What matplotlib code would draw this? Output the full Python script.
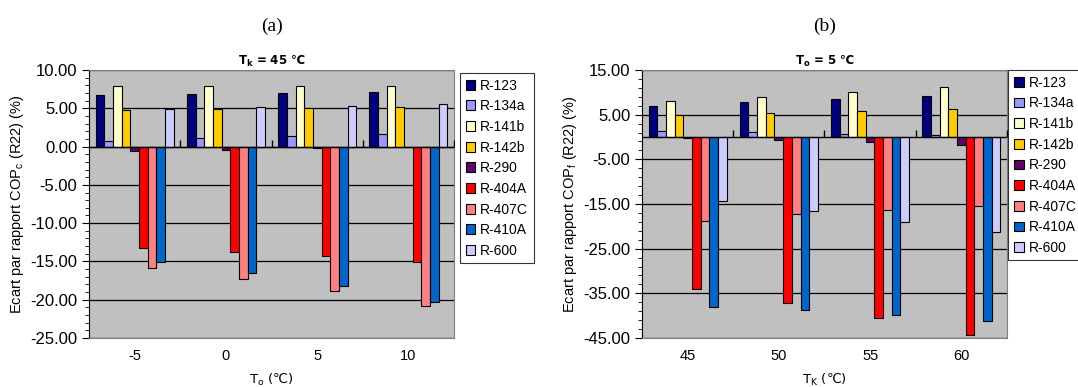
import matplotlib
matplotlib.use('Agg')
import matplotlib.pyplot as plt
from matplotlib.ticker import MultipleLocator, FormatStrFormatter

plt.rcParams['font.family'] = ['Liberation Sans', 'DejaVu Sans']
plt.rcParams['axes.unicode_minus'] = False

# Data
refrigerants = ['R-123', 'R-134a', 'R-141b', 'R-142b', 'R-290', 'R-404A', 'R-407C', 'R-410A', 'R-600']
colors = ['#000080', '#9999FF', '#FFFFCC', '#FFCC00', '#660066', '#FF0000', '#FF8080', '#0066CC', '#CCCCFF']

to_labels = ['-5', '0', '5', '10']
# (a) COPc deviation vs R22, Tk = 45 C, one list per refrigerant (To = -5, 0, 5, 10)
a_r123 = [6.74, 6.87, 7.04, 7.17]
a_r134a = [0.78, 1.09, 1.35, 1.60]
a_r141b = [7.96, 7.96, 7.91, 7.87]
a_r142b = [4.74, 4.91, 5.00, 5.13]
a_r290 = [-0.57, -0.39, -0.20, -0.05]
a_r404a = [-13.26, -13.74, -14.30, -15.13]
a_r407c = [-15.90, -17.26, -18.87, -20.78]
a_r410a = [-15.10, -16.52, -18.20, -20.30]
a_r600 = [4.87, 5.13, 5.35, 5.60]

tk_labels = ['45', '50', '55', '60']
# (b) COPf deviation vs R22, To = 5 C (Tk = 45, 50, 55, 60)
b_r123 = [7.00, 7.76, 8.50, 9.25]
b_r134a = [1.27, 1.04, 0.75, 0.37]
b_r141b = [7.99, 8.96, 10.00, 11.10]
b_r142b = [5.00, 5.37, 5.82, 6.34]
b_r290 = [-0.30, -0.60, -1.12, -1.72]
b_r404a = [-34.10, -37.10, -40.50, -44.40]
b_r407c = [-18.90, -17.30, -16.30, -15.40]
b_r410a = [-38.06, -38.70, -39.85, -41.30]
b_r600 = [-14.40, -16.60, -18.96, -21.30]

series_a = [a_r123, a_r134a, a_r141b, a_r142b, a_r290, a_r404a, a_r407c, a_r410a, a_r600]
series_b = [b_r123, b_r134a, b_r141b, b_r142b, b_r290, b_r404a, b_r407c, b_r410a, b_r600]


def draw_panel(ax, series, xlabels, ylim, major, minor, offset, title, xlabel, ylabel):
    n = len(xlabels)
    w = 0.095
    for i, (vals, name, c) in enumerate(zip(series, refrigerants, colors)):
        pos = [g + (i - 4) * w for g in range(n)]
        ax.bar(pos, vals, width=w, color=c, edgecolor='black', linewidth=0.8,
               label=name, zorder=3)
    ax.set_facecolor('#C0C0C0')
    ax.set_xlim(-0.5, n - 0.5)
    ax.set_ylim(*ylim)
    ax.yaxis.set_major_locator(MultipleLocator(major, offset=offset))
    ax.yaxis.set_minor_locator(MultipleLocator(minor, offset=offset % minor))
    ax.yaxis.set_major_formatter(FormatStrFormatter('%.2f'))
    ax.grid(axis='y', which='major', color='black', linewidth=0.9, zorder=1)
    ax.set_axisbelow(True)
    ax.axhline(0, color='black', linewidth=1.0, zorder=4)
    # category boundary ticks on the zero line
    ax.plot([g + 0.5 for g in range(n)], [0] * n, ls='none', marker=2,
            markersize=5, color='black', zorder=4)
    ax.set_xticks(range(n))
    ax.set_xticklabels(xlabels)
    ax.tick_params(axis='x', length=0, pad=8, labelsize=10.5)
    ax.tick_params(axis='y', which='major', direction='out', length=5, labelsize=12)
    ax.tick_params(axis='y', which='minor', direction='out', length=3)
    for s in ['top', 'right', 'bottom']:
        ax.spines[s].set_color('#808080')
    ax.spines['left'].set_color('black')
    ax.set_title(title, fontsize=8.5, fontweight='bold', pad=4, family='DejaVu Sans')
    ax.set_xlabel(xlabel, fontsize=9.5, labelpad=6, family='DejaVu Sans')
    ax.set_ylabel(ylabel, fontsize=10.5, labelpad=3)


fig = plt.figure(figsize=(10.78, 3.87), dpi=100)
ax1 = fig.add_axes([0.0826, 0.1266, 0.3386, 0.6925])
ax2 = fig.add_axes([0.5955, 0.1266, 0.3386, 0.6925])

draw_panel(ax1, series_a, to_labels, (-25, 10), 5, 1, 0,
           r'T$_\mathregular{k}$ = 45 ℃', r'T$_\mathregular{o}$ (℃)',
           r'Ecart par rapport COP$_\mathregular{c}$ (R22) (%)')
draw_panel(ax2, series_b, tk_labels, (-45, 15), 10, 2, 5,
           r'T$_\mathregular{o}$ = 5 ℃', r'T$_\mathregular{K}$ (℃)',
           r'Ecart par rapport COP$_\mathregular{f}$ (R22) (%)')

for ax, x0, y0 in [(ax1, 0.4267, 0.8114), (ax2, 0.9355, 0.819)]:
    leg = ax.legend(loc='upper left', bbox_to_anchor=(x0, y0), bbox_transform=fig.transFigure,
                    fontsize=10, frameon=True, fancybox=False, edgecolor='black',
                    handlelength=0.7, handleheight=0.7, handletextpad=0.35,
                    labelspacing=0.48, borderpad=0.4, borderaxespad=0)
    leg.get_frame().set_linewidth(0.8)

fig.text(0.2523, 0.933, '(a)', family='Liberation Serif', fontsize=14, ha='center', va='center')
fig.text(0.7653, 0.933, '(b)', family='Liberation Serif', fontsize=14, ha='center', va='center')

fig.savefig('out.png', dpi=100)
